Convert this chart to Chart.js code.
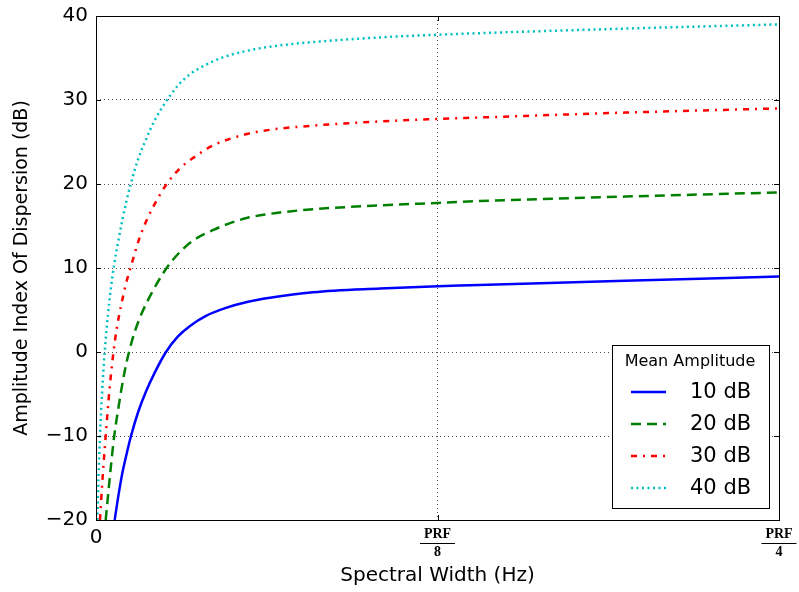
<!DOCTYPE html>
<html>
<head>
<meta charset="utf-8">
<script src="https://cdn.jsdelivr.net/npm/chart.js@4/dist/chart.umd.min.js"></script>
<style>
html,body{margin:0;padding:0;background:#fff;}
canvas{display:block;}
</style>
</head>
<body>
<canvas id="c" width="799" height="592"></canvas>
<script>
// x values are fractions of PRF (0 .. PRF/4)
const xTickValues = [0, 0.125, 0.25];
const xTickLabels = ['0', ['PRF', '8'], ['PRF', '4']];
const yMin = -20, yMax = 40, yStep = 10;

const seriesLabels = ['10 dB', '20 dB', '30 dB', '40 dB'];
const legendTitle = 'Mean Amplitude';

const amp10X = [0.00684, 0.00805, 0.00952, 0.01116, 0.01281, 0.01537, 0.01830, 0.02159, 0.02562, 0.03001, 0.03441, 0.04026, 0.04758, 0.05527, 0.06369, 0.07943, 0.10395, 0.12507, 0.13690, 0.19363, 0.25];
const amp10Y = [-20, -17.4, -14.6, -12.2, -10, -7.2, -4.7, -2.4, 0, 1.85, 3.1, 4.3, 5.25, 5.95, 6.45, 7.1, 7.55, 7.84, 7.95, 8.47, 9.0];

const amp20X = [0.00355, 0.00458, 0.00549, 0.00659, 0.00842, 0.01025, 0.01208, 0.01428, 0.01673, 0.02050, 0.02463, 0.02771, 0.03195, 0.03686, 0.04272, 0.04784, 0.05516, 0.06369, 0.07954, 0.10395, 0.12507, 0.14056, 0.19363, 0.25];
const amp20Y = [-20, -16.5, -13.5, -10.2, -6.2, -2.7, 0, 2.5, 4.6, 7.1, 9.4, 10.8, 12.3, 13.55, 14.5, 15.2, 15.95, 16.45, 17.0, 17.45, 17.75, 17.97, 18.5, 19.0];

const amp30X = [0.00146, 0.00245, 0.00355, 0.00490, 0.00640, 0.00769, 0.00904, 0.01080, 0.01270, 0.01585, 0.01856, 0.02196, 0.02588, 0.03038, 0.03598, 0.04294, 0.05516, 0.06369, 0.07954, 0.10395, 0.12507, 0.13873, 0.19363, 0.25];
const amp30Y = [-20, -14.8, -10, -4.6, 0, 3.0, 5.3, 7.9, 10.1, 13.5, 15.7, 17.9, 20, 21.75, 23.2, 24.6, 25.95, 26.45, 26.95, 27.45, 27.75, 27.9, 28.5, 29.0];

const amp40X = [0.00048, 0.00092, 0.00146, 0.00220, 0.00318, 0.00439, 0.00531, 0.00659, 0.00816, 0.00970, 0.01117, 0.01270, 0.01526, 0.01830, 0.02134, 0.02500, 0.02990, 0.03415, 0.03906, 0.04575, 0.05516, 0.06369, 0.07954, 0.10395, 0.12507, 0.19363, 0.25];
const amp40Y = [-20, -15, -10, -5, 0, 4.5, 7.2, 10.3, 13.2, 15.8, 18.0, 20, 22.8, 25.3, 27.5, 29.5, 31.7, 33.0, 34.0, 35.0, 35.85, 36.35, 36.9, 37.45, 37.77, 38.5, 39.0];

function pts(xs, ys) { return xs.map((x, i) => ({x: x, y: ys[i]})); }

const FONT = '"DejaVu Sans", sans-serif';

const datasets = [
  {label: seriesLabels[0], data: pts(amp10X, amp10Y), borderColor: '#0000ff', borderWidth: 2.5, borderDash: []},
  {label: seriesLabels[1], data: pts(amp20X, amp20Y), borderColor: '#008000', borderWidth: 2.5, borderDash: [10, 6]},
  {label: seriesLabels[2], data: pts(amp30X, amp30Y), borderColor: '#ff0000', borderWidth: 2.5, borderDash: [6, 6, 2, 6]},
  {label: seriesLabels[3], data: pts(amp40X, amp40Y), borderColor: '#00bfbf', borderWidth: 2.5, borderDash: [2, 3.5]}
].map(d => Object.assign(d, {pointRadius: 0, fill: false, cubicInterpolationMode: 'monotone', backgroundColor: d.borderColor}));

const framePlugin = {
  id: 'frame',
  afterDraw(chart) {
    const ctx = chart.ctx, a = chart.chartArea;
    ctx.save();
    ctx.strokeStyle = '#000';
    ctx.lineWidth = 1;
    ctx.setLineDash([]);
    const ys = chart.scales.y, xs = chart.scales.x;
    ctx.beginPath();
    ys.ticks.forEach(t => {
      const p = Math.round(ys.getPixelForValue(t.value)) + 0.5;
      ctx.moveTo(a.left, p); ctx.lineTo(a.left + 5, p);
      ctx.moveTo(a.right, p); ctx.lineTo(a.right - 5, p);
    });
    xs.ticks.forEach(t => {
      const p = Math.round(xs.getPixelForValue(t.value)) + 0.5;
      ctx.moveTo(p, a.bottom); ctx.lineTo(p, a.bottom - 5);
      ctx.moveTo(p, a.top); ctx.lineTo(p, a.top + 5);
    });
    ctx.stroke();
    ctx.strokeRect(Math.round(a.left) + 0.5, Math.round(a.top) + 0.5, Math.round(a.right - a.left), Math.round(a.bottom - a.top));
    // fraction bars under the PRF labels
    ctx.beginPath();
    xs.ticks.forEach(t => {
      const lab = xTickLabels[xTickValues.indexOf(t.value)];
      if (Array.isArray(lab)) {
        const p = xs.getPixelForValue(t.value);
        const yb = Math.round(a.bottom + 23) + 0.5;
        ctx.moveTo(p - 17.5, yb); ctx.lineTo(p + 17.5, yb);
      }
    });
    ctx.stroke();

    // legend box
    const bx = 612.5, by = 345.5, bw = 157, bh = 163;
    ctx.fillStyle = '#fff';
    ctx.fillRect(bx, by, bw, bh);
    ctx.strokeRect(bx, by, bw, bh);
    ctx.fillStyle = '#000';
    ctx.font = '16px ' + FONT;
    ctx.textAlign = 'center';
    ctx.textBaseline = 'middle';
    ctx.fillText(legendTitle, 690, 362);
    const rowY = [392, 424, 456, 488];
    chart.data.datasets.forEach((d, i) => {
      const y = rowY[i];
      ctx.strokeStyle = d.borderColor;
      ctx.lineWidth = d.borderWidth;
      ctx.setLineDash(d.borderDash || []);
      ctx.beginPath();
      ctx.moveTo(631, y); ctx.lineTo(666, y);
      ctx.stroke();
      ctx.setLineDash([]);
      ctx.fillStyle = '#000';
      ctx.font = '21px ' + FONT;
      ctx.textAlign = 'left';
      ctx.fillText(d.label, 690, y + 1);
    });
    ctx.restore();
  }
};

new Chart(document.getElementById('c'), {
  type: 'line',
  data: {datasets: datasets},
  options: {
    responsive: false,
    animation: false,
    devicePixelRatio: 1,
    layout: {padding: {top: 16, right: 20, left: 0, bottom: 0}},
    plugins: {legend: {display: false}, tooltip: {enabled: false}},
    scales: {
      x: {
        type: 'linear', min: 0, max: 0.25,
        afterBuildTicks(s) { s.ticks = xTickValues.map(v => ({value: v})); },
        afterFit(s) { s.height = 72; s.paddingLeft = 0; s.paddingRight = 0; },
        border: {display: false, dash: [1, 3]},
        grid: {color: 'rgba(0,0,0,0.7)', lineWidth: 1, drawTicks: false},
        ticks: {
          padding: 6,
          maxRotation: 0,
          autoSkip: false,
          color: '#000',
          callback(v) { const i = xTickValues.indexOf(v); return i >= 0 ? xTickLabels[i] : ''; },
          font(ctx) {
            if (ctx.tick && ctx.tick.value === 0) return {family: FONT, size: 20, lineHeight: 1.2};
            return {family: '"Liberation Serif", "DejaVu Serif", serif', size: 14, weight: 'bold', lineHeight: 1.25};
          }
        },
        title: {display: true, text: 'Spectral Width (Hz)', color: '#000', font: {family: FONT, size: 20}, padding: {top: 0, bottom: 4}}
      },
      y: {
        min: yMin, max: yMax,
        afterFit(s) { s.width = 96; s.paddingTop = 0; s.paddingBottom = 0; },
        border: {display: false, dash: [1, 3]},
        grid: {color: 'rgba(0,0,0,0.7)', lineWidth: 1, drawTicks: false},
        ticks: {
          stepSize: yStep, padding: 8, color: '#000',
          font: {family: FONT, size: 20},
          callback(v) { return v < 0 ? '\u2212' + Math.abs(v) : String(v); }
        },
        title: {display: true, text: 'Amplitude Index Of Dispersion (dB)', color: '#000', font: {family: FONT, size: 19}, padding: {top: 11, bottom: 0}}
      }
    }
  },
  plugins: [framePlugin]
});
</script>
</body>
</html>
